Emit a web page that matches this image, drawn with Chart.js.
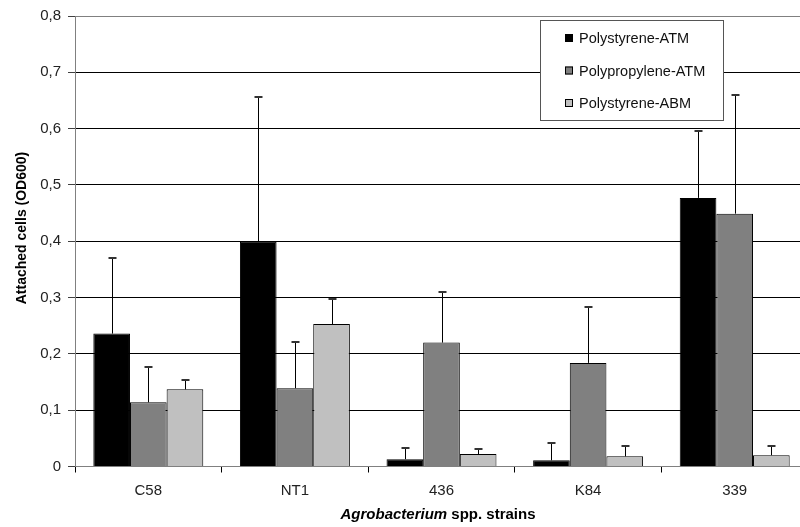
<!DOCTYPE html>
<html>
<head>
<meta charset="utf-8">
<script src="https://cdn.jsdelivr.net/npm/chart.js@4.4.0/dist/chart.umd.min.js"></script>
<style>
  html, body { margin: 0; padding: 0; background: #fff; overflow: hidden; }
  #wrap { width: 810px; height: 527px; }
</style>
</head>
<body>
<div id="wrap"><canvas id="c" width="810" height="527"></canvas></div>
<script>
const strains = ['C58', 'NT1', '436', 'K84', '339'];
const seriesNames = ['Polystyrene-ATM', 'Polypropylene-ATM', 'Polystyrene-ABM'];
const seriesColors = ['#000000', '#808080', '#c0c0c0'];

const psATM = [0.236, 0.399, 0.013, 0.011, 0.477];
const ppATM = [0.114, 0.139, 0.220, 0.184, 0.449];
const psABM = [0.137, 0.253, 0.022, 0.018, 0.020];

// standard deviation (upper whisker only)
const psATMErr = [0.135, 0.258, 0.020, 0.031, 0.118];
const ppATMErr = [0.062, 0.082, 0.089, 0.099, 0.211];
const psABMErr = [0.017, 0.045, 0.009, 0.019, 0.016];

const yTicks = [0, 0.1, 0.2, 0.3, 0.4, 0.5, 0.6, 0.7, 0.8];

const FONT = '"Liberation Sans", Arial, sans-serif';

const values = [psATM, ppATM, psABM];
const errors = [psATMErr, ppATMErr, psABMErr];

const errorBars = {
  id: 'errorBars',
  afterDatasetsDraw(chart) {
    const ctx = chart.ctx;
    const y = chart.scales.y;
    ctx.save();
    chart.data.datasets.forEach((ds, di) => {
      const meta = chart.getDatasetMeta(di);
      meta.data.forEach((bar, i) => {
        const v = ds.data[i];
        const top = y.getPixelForValue(v + errors[di][i]);
        const base = y.getPixelForValue(v);
        const x = Math.round(bar.x) + 0.5;
        ctx.strokeStyle = '#000';
        ctx.lineWidth = 1;
        ctx.beginPath();
        ctx.moveTo(x, base);
        ctx.lineTo(x, Math.round(top));
        ctx.stroke();
        ctx.strokeStyle = '#333';
        ctx.lineWidth = 2;
        ctx.beginPath();
        ctx.moveTo(x - 4, Math.round(top));
        ctx.lineTo(x + 4, Math.round(top));
        ctx.stroke();
      });
    });
    ctx.restore();
  }
};

const boxLegend = {
  id: 'boxLegend',
  afterDraw(chart) {
    const ctx = chart.ctx;
    ctx.save();
    ctx.fillStyle = '#fff';
    ctx.fillRect(540, 20, 183, 100);
    ctx.strokeStyle = '#555';
    ctx.lineWidth = 1;
    ctx.strokeRect(540.5, 20.5, 183, 100);
    const rows = [38, 70.5, 103];
    ctx.font = '14.5px ' + FONT;
    ctx.textBaseline = 'middle';
    chart.data.datasets.forEach((ds, i) => {
      const cy = rows[i];
      ctx.fillStyle = ds.backgroundColor;
      ctx.fillRect(565, cy - 4, 8, 8);
      ctx.strokeStyle = '#000';
      ctx.strokeRect(565.5, cy - 3.5, 7, 7);
      ctx.fillStyle = '#111';
      ctx.fillText(ds.label, 579, cy + 1);
    });
    ctx.restore();
  }
};

const axisTitles = {
  id: 'axisTitles',
  afterDraw(chart) {
    const ctx = chart.ctx;
    ctx.save();
    ctx.fillStyle = '#000';
    ctx.textBaseline = 'middle';
    // y title
    ctx.translate(22, 228);
    ctx.rotate(-Math.PI / 2);
    ctx.textAlign = 'center';
    ctx.font = 'bold 14px ' + FONT;
    ctx.fillText('Attached cells (OD600)', 0, 0);
    ctx.restore();

    // x title with italic genus name
    ctx.save();
    ctx.fillStyle = '#000';
    ctx.textBaseline = 'middle';
    const part1 = 'Agrobacterium';
    const part2 = ' spp. strains';
    const f1 = 'italic bold 15px ' + FONT;
    const f2 = 'bold 15px ' + FONT;
    ctx.font = f1; const w1 = ctx.measureText(part1).width;
    ctx.font = f2; const w2 = ctx.measureText(part2).width;
    const cx = 438;
    let x0 = cx - (w1 + w2) / 2;
    ctx.textAlign = 'left';
    ctx.font = f1; ctx.fillText(part1, x0, 515);
    ctx.font = f2; ctx.fillText(part2, x0 + w1, 515);
    ctx.restore();
  }
};

new Chart(document.getElementById('c'), {
  type: 'bar',
  data: {
    labels: strains,
    datasets: seriesNames.map((name, i) => ({
      label: name,
      data: values[i],
      backgroundColor: seriesColors[i],
      borderColor: '#000',
      borderWidth: 1,
      categoryPercentage: 0.75,
      barPercentage: 1.0
    }))
  },
  options: {
    responsive: false,
    animation: false,
    layout: { padding: { top: 14, left: 0, right: 2, bottom: 0 } },
    plugins: {
      legend: { display: false },
      tooltip: { enabled: false }
    },
    scales: {
      x: {
        grid: {
          offset: true,
          drawOnChartArea: false,
          drawTicks: true,
          tickLength: 6,
          color: '#000'
        },
        border: { color: '#808080', width: 1 },
        ticks: {
          font: { family: FONT, size: 15 },
          color: '#222',
          padding: 9
        },
        afterFit(scale) { scale.height = 60.5; }
      },
      y: {
        min: 0,
        max: 0.8,
        afterBuildTicks(scale) {
          scale.ticks = yTicks.map(v => ({ value: v }));
        },
        grid: {
          color: c => (c.tick && (c.tick.value === 0.8 || c.tick.value === 0)) ? '#808080' : '#000',
          tickColor: '#404040',
          tickLength: 7
        },
        border: { color: '#808080', width: 1 },
        ticks: {
          font: { family: FONT, size: 15 },
          color: '#222',
          padding: 7,
          callback: v => String(Math.round(v * 10) / 10).replace('.', ',')
        },
        afterFit(scale) { scale.width = 75; }
      }
    }
  },
  plugins: [errorBars, boxLegend, axisTitles]
});
</script>
</body>
</html>
